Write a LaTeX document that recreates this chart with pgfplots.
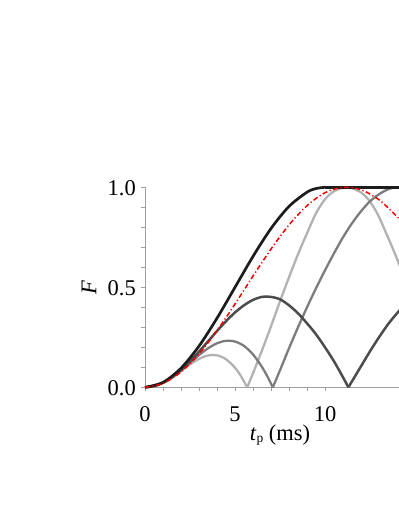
\documentclass[border=0pt]{standalone}
\usepackage{fontspec}
\setmainfont{Liberation Serif}
\usepackage{pgfplots}
\pgfplotsset{compat=1.18}
\definecolor{cblack}{HTML}{1C1C1C}
\definecolor{cdark}{HTML}{4C4C4C}
\definecolor{cmid}{HTML}{7C7C7C}
\definecolor{clight}{HTML}{B2B2B2}
\definecolor{cred}{HTML}{F00000}
\definecolor{caxis}{HTML}{A0A0A0}
\newcommand{\bigfont}{\fontsize{22.5bp}{26bp}\selectfont}
\begin{document}
\begin{tikzpicture}
\path[use as bounding box] (0,0) rectangle (399bp,516bp);
\begin{axis}[
    at={(145bp,128.7bp)}, anchor=south west,
    scale only axis, width=270bp, height=200bp,
    xmin=0, xmax=15, ymin=0, ymax=1,
    clip=false,
    axis x line*=bottom, axis y line*=left,
    axis line style={caxis, line width=0.8bp},
    tick style={caxis, line width=0.8bp},
    tick align=outside,
    major tick length=4bp, minor tick length=4bp,
    xtick={0,5,10}, minor x tick num=4,
    ytick={0,0.5,1}, minor y tick num=4,
    /pgf/number format/assume math mode=true,
    y tick label style={/pgf/number format/fixed, /pgf/number format/fixed zerofill, /pgf/number format/precision=1},
    tick label style={font=\bigfont},
    yticklabel style={anchor=east, inner sep=0pt, xshift=-5bp, yshift=-1bp},
    xticklabel style={anchor=base, inner sep=0pt, yshift=-30bp},
    every axis y label/.style={at={(axis description cs:-0.207,0.5)}, anchor=center, rotate=90, font=\bigfont},
    every axis x label/.style={at={(axis description cs:0.5,-0.2635)}, anchor=base, font=\bigfont},
    ylabel={\textit{F}},
    xlabel={\textit{t}\raisebox{-0.25ex}{\fontsize{13.5bp}{13.5bp}\selectfont p} (ms)},
]
% light grey curve
\addplot[clight, line width=2.3bp, smooth] coordinates {
 (0,0) (0.5,0.0061) (1,0.0237) (1.5,0.0502) (2,0.0822) (2.5,0.1145) (3,0.1419)
 (3.5,0.1591) (4,0.1598) (4.5,0.1403) (5,0.0980) (5.3,0.0605) (5.68,0)};
\addplot[clight, line width=2.3bp, smooth] coordinates {
 (5.68,0) (6,0.07) (6.5,0.185) (7,0.305) (7.5,0.43) (8,0.55) (8.5,0.665) (9,0.77)
 (9.5,0.87) (10,0.94) (10.5,0.98) (11.2,1.0) (11.9,0.98) (12.4,0.94) (12.9,0.87)
 (13.4,0.77) (13.9,0.665) (14.4,0.55)};
% medium grey curve
\addplot[cmid, line width=2.3bp, smooth] coordinates {
 (0,0) (0.5,0.0060) (1,0.0234) (1.5,0.0505) (2,0.0850) (2.5,0.1232) (3,0.1612)
 (3.5,0.1949) (4,0.2200) (4.5,0.2325) (5,0.2288) (5.5,0.2069) (6,0.1645)
 (6.5,0.1015) (6.8,0.0542) (7.1,0)};
\addplot[cmid, line width=2.3bp, smooth] coordinates {
 (7.1,0) (7.5,0.085) (8,0.195) (8.5,0.30) (9,0.40) (9.5,0.495) (10,0.585)
 (10.5,0.67) (11,0.75) (11.5,0.82) (12,0.88) (12.5,0.93) (13,0.965) (13.5,0.99)
 (14,1.0) (14.5,0.99)};
% dark grey curve
\addplot[cdark, line width=2.5bp, smooth] coordinates {
 (0,0) (0.5,0.0057) (1,0.0226) (1.5,0.0498) (2,0.0862) (2.5,0.1298) (3,0.1785)
 (3.5,0.2298) (4,0.2813) (4.5,0.3303) (5,0.3741) (5.5,0.410) (6,0.437) (6.5,0.452)
 (7,0.452) (7.5,0.44) (8,0.41) (8.5,0.37) (9,0.32) (9.5,0.265) (10,0.20)
 (10.5,0.13) (11,0.05) (11.3,0)};
\addplot[cdark, line width=2.5bp, smooth] coordinates {
 (11.3,0) (11.5,0.03) (12,0.105) (12.5,0.18) (13,0.25) (13.5,0.315) (14,0.37)
 (14.5,0.42)};
% black curve
\addplot[cblack, line width=2.7bp, smooth] coordinates {
 (0,0) (1,0.0245) (2,0.0955) (3,0.2061) (4,0.3455) (5,0.5) (6,0.6545) (7,0.7939)
 (8,0.9045) (9,0.9755) (9.5,0.9938) (10,1)};
\addplot[cblack, line width=2.7bp] coordinates {(10,1) (14.5,1)};
% red dash-dot curve
\addplot[cred, line width=1.5bp, smooth, dash pattern=on 5bp off 2.5bp on 1.2bp off 2.5bp] coordinates {
 (0,0) (1,0.0195) (2,0.0766) (3,0.1668) (4,0.2831) (5,0.4163) (6,0.5560)
 (7,0.6913) (8,0.8118) (9,0.9080) (10,0.9729) (11,0.9994) (12,0.9875)
 (13,0.9376) (14,0.8536) (14.5,0.8014)};
\end{axis}
\end{tikzpicture}
\end{document}
